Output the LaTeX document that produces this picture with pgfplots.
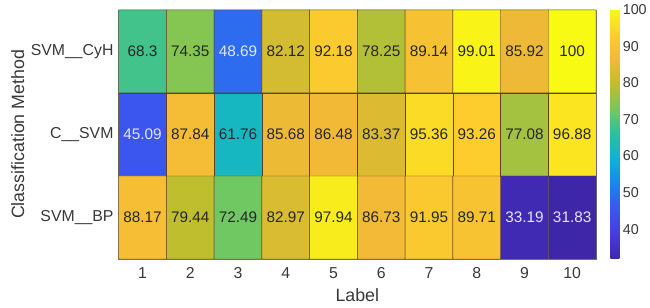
\documentclass[border=0pt]{standalone}
\usepackage{pgfplots}
\pgfplotsset{compat=1.18}
\usepackage{pgfplotstable}
\usepackage{fontspec}
\setmainfont{Liberation Sans}
\pgfplotstableread{
x y c
1 1 68.3
2 1 74.35
3 1 48.69
4 1 82.12
5 1 92.18
6 1 78.25
7 1 89.14
8 1 99.01
9 1 85.92
10 1 100
1 2 45.09
2 2 87.84
3 2 61.76
4 2 85.68
5 2 86.48
6 2 83.37
7 2 95.36
8 2 93.26
9 2 77.08
10 2 96.88
1 3 88.17
2 3 79.44
3 3 72.49
4 3 82.97
5 3 97.94
6 3 86.73
7 3 91.95
8 3 89.71
9 3 33.19
10 3 31.83
}\heat
\pgfplotstableread{
x y t
1 1 68.3
2 1 74.35
4 1 82.12
5 1 92.18
6 1 78.25
7 1 89.14
8 1 99.01
9 1 85.92
10 1 100
2 2 87.84
3 2 61.76
4 2 85.68
5 2 86.48
6 2 83.37
7 2 95.36
8 2 93.26
9 2 77.08
10 2 96.88
1 3 88.17
2 3 79.44
3 3 72.49
4 3 82.97
5 3 97.94
6 3 86.73
7 3 91.95
8 3 89.71
}\darktext
\pgfplotstableread{
x y t
3 1 48.69
1 2 45.09
9 3 33.19
10 3 31.83
}\whitetext
\begin{document}
\begin{tikzpicture}
\begin{axis}[
  name=ax,
  scale only axis,
  width=483pt, height=252pt,
  xmin=0.5, xmax=10.5, ymin=0.5, ymax=3.5,
  y dir=reverse,
  xtick={1,...,10}, ytick={1,2,3},
  yticklabels={SVM\_\_CyH, C\_\_SVM, SVM\_\_BP},
  /pgf/number format/assume math mode=true,
  tick style={draw=none},
  ticklabel style={font=\fontsize{16}{18}\selectfont, text=black!78},
  xticklabel style={yshift=-5.5pt},
  yticklabel style={xshift=-1.7pt},
  xlabel={Label}, ylabel={Classification Method},
  label style={font=\fontsize{18}{20}\selectfont, text=black!78, inner sep=0pt},
  xlabel style={at={(axis description cs:0.5,-0.119)}, anchor=north},
  ylabel style={at={(axis description cs:-0.2112,0.5)}, anchor=center},
  axis line style={draw=black!55},
  colormap={parula}{
    rgb255(0)=(62,38,168)
    rgb255(1)=(72,60,225)
    rgb255(2)=(58,86,240)
    rgb255(3)=(30,132,235)
    rgb255(4)=(12,178,214)
    rgb255(5)=(40,192,162)
    rgb255(6)=(115,200,95)
    rgb255(7)=(192,190,45)
    rgb255(8)=(242,185,55)
    rgb255(9)=(252,205,45)
    rgb255(10)=(248,250,20)
  },
  point meta min=31.83, point meta max=100,
  colorbar,
  colorbar style={
    at={(parent axis.north east)}, anchor=north west, xshift=6pt,
    width=9pt,
    ytick={40,50,...,100},
    tick style={draw=none},
    axis line style={draw=none},
    /pgf/number format/assume math mode=true,
    yticklabel style={font=\fontsize{14.5}{16}\selectfont, text=black!78},
  },
]
\addplot[matrix plot*, mesh/cols=10, point meta=explicit, draw=black!50!brown, line width=0.4pt]
  table[x=x, y=y, meta=c] {\heat};
\addplot[only marks, mark=none, point meta=explicit symbolic,
  nodes near coords, nodes near coords align={center},
  every node near coord/.style={font=\fontsize{15.5}{17}\selectfont, text=black!85}]
  table[x=x, y=y, meta=t] {\darktext};
\addplot[only marks, mark=none, point meta=explicit symbolic,
  nodes near coords, nodes near coords align={center},
  every node near coord/.style={font=\fontsize{15.5}{17}\selectfont, text=white!90!blue}]
  table[x=x, y=y, meta=t] {\whitetext};
\end{axis}
\path[use as bounding box] ([xshift=-120pt,yshift=-49pt]ax.south west) rectangle ([xshift=47pt,yshift=10pt]ax.north east);
\end{tikzpicture}
\end{document}
